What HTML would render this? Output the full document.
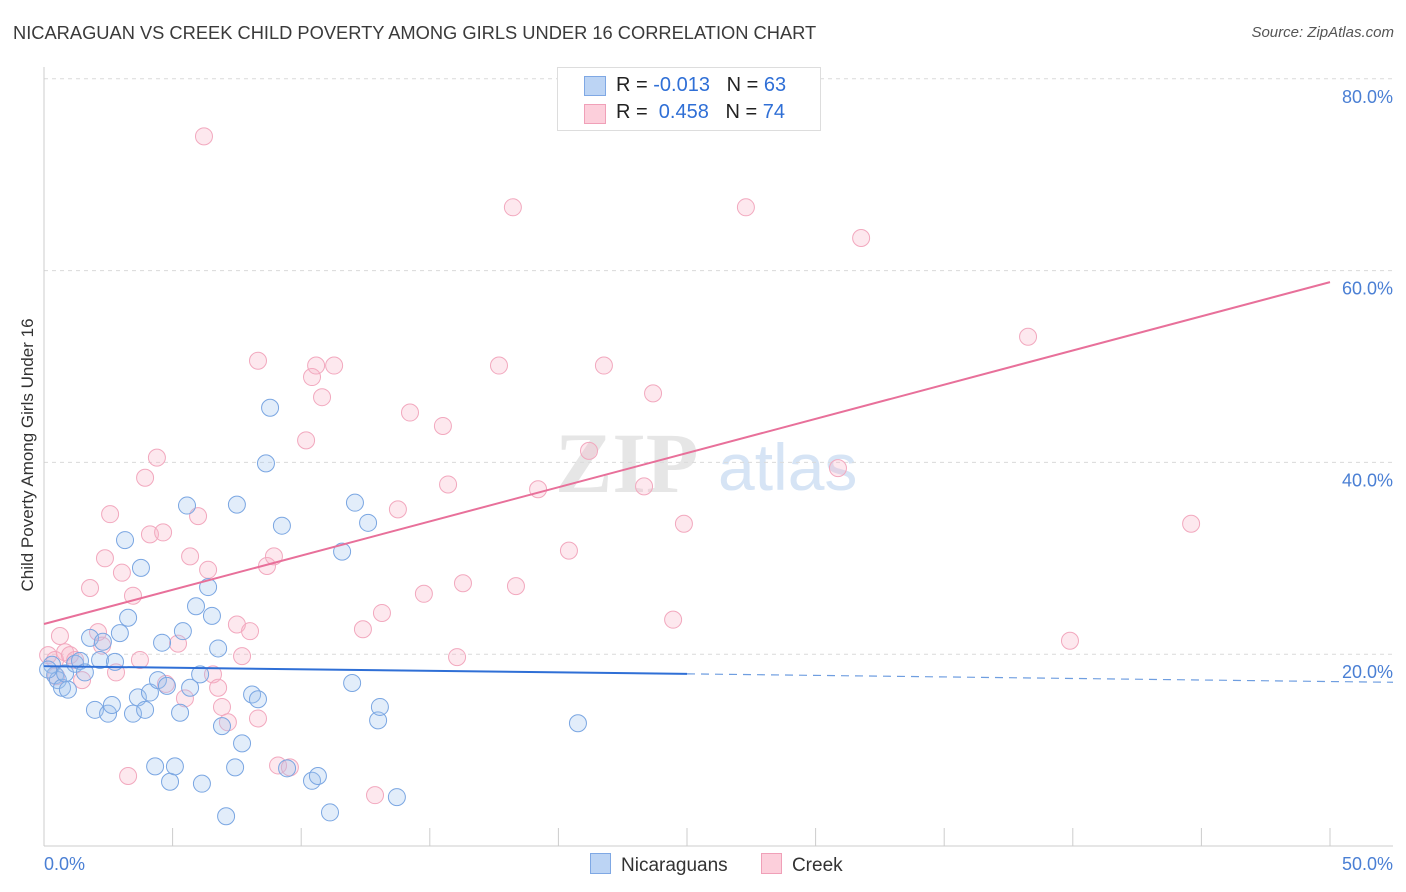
<!DOCTYPE html>
<html><head><meta charset="utf-8"><style>
body{margin:0;background:#fff;font-family:"Liberation Sans",sans-serif;}
#wrap{position:relative;width:1406px;height:892px;overflow:hidden;}
</style></head><body>
<div id="wrap">
<div style="position:absolute;left:13px;top:22px;font-size:18.3px;color:#3a3a3a;">NICARAGUAN VS CREEK CHILD POVERTY AMONG GIRLS UNDER 16 CORRELATION CHART</div>
<div style="position:absolute;right:12px;top:24px;font-size:15px;color:#555;font-style:italic;">Source: ZipAtlas.com</div>
<svg id="chart" width="1406" height="892" style="position:absolute;left:0;top:0"></svg>
</div>
<script>
const yTicks=[20,40,60,80];
const yTickLabels=["20.0%","40.0%","60.0%","80.0%"];
const xTickLabels=["0.0%","50.0%"];
const blueX=[0.31,0.43,0.54,0.70,0.93,0.82,1.21,1.40,1.59,1.79,1.98,2.18,2.29,2.49,2.64,2.76,2.95,3.15,3.27,3.46,3.65,3.77,3.93,4.12,4.32,4.43,4.59,4.78,4.90,5.09,5.29,5.40,5.56,5.68,5.91,6.07,6.14,6.38,6.53,6.77,6.92,7.08,7.43,7.50,7.70,8.09,8.32,8.63,8.79,9.25,9.45,10.42,10.65,11.12,11.59,11.98,12.09,12.60,12.99,13.06,13.72,20.76,0.16];
const blueY=[18.9,17.8,17.3,16.5,16.3,18.0,19.0,19.3,18.1,21.7,14.2,19.4,21.3,13.8,14.7,19.2,22.2,31.9,23.8,13.8,15.5,29.0,14.2,16.0,8.3,17.3,21.2,16.7,6.7,8.3,13.9,22.4,35.5,16.5,25.0,17.9,6.5,27.0,24.0,20.6,12.5,3.1,8.2,35.6,10.7,15.8,15.3,39.9,45.7,33.4,8.1,6.8,7.3,3.5,30.7,17.0,35.8,33.7,13.1,14.5,5.1,12.8,18.4];
const pinkX=[0.16,0.43,0.62,0.82,1.01,1.21,1.48,1.79,2.10,2.26,2.37,2.57,2.80,3.03,3.27,3.46,3.73,3.93,4.12,4.39,4.63,4.74,5.21,5.48,5.68,5.99,6.22,6.38,6.57,6.77,6.92,7.15,7.50,7.70,8.01,8.32,8.32,8.67,8.94,9.10,9.56,10.19,10.42,10.58,10.81,11.28,12.40,12.87,13.14,13.76,14.23,14.77,15.51,15.71,16.29,16.06,17.69,18.23,18.35,19.21,20.41,21.19,21.77,23.33,23.68,24.46,24.88,27.29,30.87,31.77,38.26,39.89,44.60,0.47];
const pinkY=[19.9,19.4,21.9,20.2,19.9,19.4,17.3,26.9,22.3,20.9,30.0,34.6,18.1,28.5,7.3,26.1,19.4,38.4,32.5,40.5,32.7,16.9,21.1,15.4,30.2,34.4,74.0,28.8,17.9,16.5,14.5,12.9,23.1,19.8,22.4,13.3,50.6,29.2,30.2,8.4,8.2,42.3,48.9,50.1,46.8,50.1,22.6,5.3,24.3,35.1,45.2,26.3,43.8,37.7,27.4,19.7,50.1,66.6,27.1,37.2,30.8,41.2,50.1,37.5,47.2,23.6,33.6,66.6,39.4,63.4,53.1,21.4,33.6,17.7];
const blueTrend=[18.75,17.95];
const pinkTrend=[23.15,58.8];

const NS="http://www.w3.org/2000/svg";
const svg=document.getElementById('chart');
const X0=44,X1=1330,Y0=846,YS=9.59;
const xs=v=>X0+(X1-X0)*v/50;
const ys=v=>Y0-v*YS;
function mk(t,a){const e=document.createElementNS(NS,t);for(const k in a)e.setAttribute(k,a[k]);svg.appendChild(e);return e;}
let w=mk('text',{x:555,y:492,'font-size':86,fill:'#e6e6e6','font-family':'Liberation Serif,serif','font-weight':'bold'});w.textContent='ZIP';


let w2=mk('text',{x:718,y:490,'font-size':66,fill:'#d6e4f5','font-family':'Liberation Sans,sans-serif'});w2.textContent='atlas';


yTicks.forEach((t,i)=>{
 const g=mk('line',{x1:44,x2:1393,y1:ys(t),y2:ys(t),stroke:'#dadada','stroke-dasharray':'4,4'});
 
 
 const l=mk('text',{x:1393,y:ys(t)+24,'text-anchor':'end','font-size':18,fill:'#4a7fd4'});l.textContent=yTickLabels[i];
 
 
});
let ax=mk('line',{x1:44,x2:44,y1:67,y2:846,stroke:'#ccc'});


let bx=mk('line',{x1:44,x2:1393,y1:846,y2:846,stroke:'#ccc'});


for(let i=0;i<=10;i++){const t=mk('line',{x1:xs(i*5),x2:xs(i*5),y1:828,y2:846,stroke:'#ccc'});
 
 }
let xl0=mk('text',{x:44,y:870,'font-size':18,fill:'#4a7fd4'});xl0.textContent=xTickLabels[0];


let xl1=mk('text',{x:1393,y:870,'text-anchor':'end','font-size':18,fill:'#4a7fd4'});xl1.textContent=xTickLabels[1];


let yt=mk('text',{x:33,y:455,'text-anchor':'middle','font-size':17,fill:'#333',transform:'rotate(-90 33 455)'});yt.textContent='Child Poverty Among Girls Under 16';


pinkX.forEach((x,i)=>{const c=mk('circle',{cx:xs(x),cy:ys(pinkY[i]),r:8.5,fill:'rgba(248,180,200,0.3)',stroke:'#f2a8be','stroke-width':1});
 
 });
blueX.forEach((x,i)=>{const c=mk('circle',{cx:xs(x),cy:ys(blueY[i]),r:8.5,fill:'rgba(160,195,240,0.3)',stroke:'#7aa6e2','stroke-width':1});
 
 });
const bs=(blueTrend[1]-blueTrend[0])/25;
let bl=mk('line',{x1:xs(0),y1:ys(blueTrend[0]),x2:xs(25),y2:ys(blueTrend[1]),stroke:'#2f6fd6','stroke-width':2});


let bd=mk('line',{x1:xs(25),y1:ys(blueTrend[1]),x2:1393,y2:ys(blueTrend[0]+bs*52.45),stroke:'#6f9ee0','stroke-width':1.2,'stroke-dasharray':'8,6'});


let pl=mk('line',{x1:xs(0),y1:ys(pinkTrend[0]),x2:xs(50),y2:ys(pinkTrend[1]),stroke:'#e8709a','stroke-width':2});


</script>
<div style="position:absolute;left:557px;top:67px;width:262px;height:62px;border:1px solid #ddd;background:#fff;font-size:20px;">
 <div style="position:absolute;left:26px;top:8px;width:20px;height:18px;background:#bcd4f4;border:1px solid #7fa8e4;"></div>
 <div style="position:absolute;left:58px;top:6px;color:#222;white-space:nowrap;">R = <span style="color:#2f6fd6">-0.013</span>&nbsp;&nbsp;&nbsp;N = <span style="color:#2f6fd6">63</span></div>
 <div style="position:absolute;left:26px;top:36px;width:20px;height:18px;background:#fccfdb;border:1px solid #f0a0b8;"></div>
 <div style="position:absolute;left:58px;top:33px;color:#222;white-space:nowrap;">R = &nbsp;<span style="color:#2f6fd6">0.458</span>&nbsp;&nbsp;&nbsp;N = <span style="color:#2f6fd6">74</span></div>
</div>
<div style="position:absolute;left:590px;top:853px;font-size:19px;color:#333;">
 <span><span style="display:inline-block;width:19px;height:19px;background:#bcd4f4;border:1px solid #7fa8e4;vertical-align:-3px;margin-right:10px;"></span>Nicaraguans</span>
 <span style="margin-left:28px;"><span style="display:inline-block;width:19px;height:19px;background:#fccfdb;border:1px solid #f0a0b8;vertical-align:-3px;margin-right:10px;"></span>Creek</span>
</div>
</body></html>
